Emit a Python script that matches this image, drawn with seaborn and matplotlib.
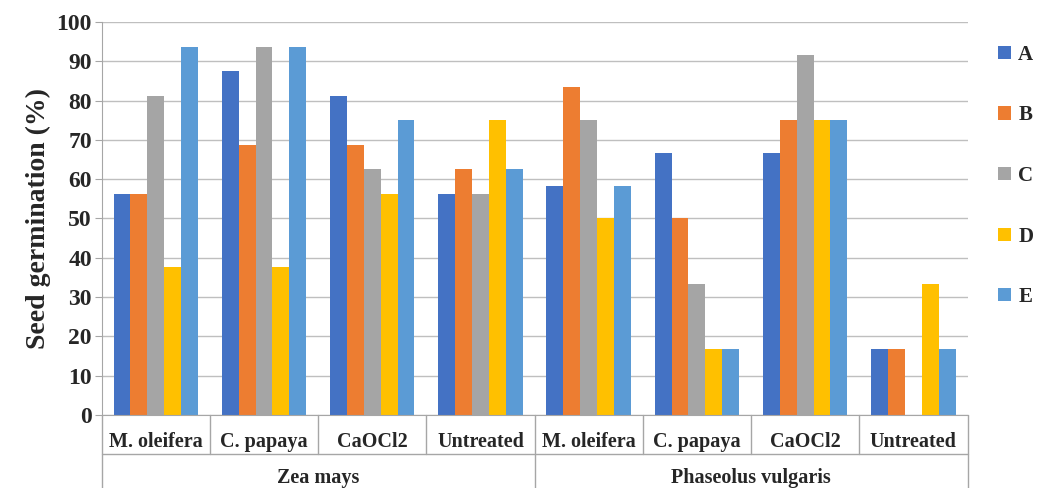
import pandas as pd
import numpy as np
import matplotlib.pyplot as plt
import seaborn as sns

# Data
species = ["Zea mays", "Phaseolus vulgaris"]
treatments = ["M. oleifera", "C. papaya", "CaOCl2", "Untreated"]
series = ["A", "B", "C", "D", "E"]
colors = ["#4472C4", "#ED7D31", "#A5A5A5", "#FFC000", "#5B9BD5"]

A = [56.25, 87.5, 81.25, 56.25, 58.33, 66.67, 66.67, 16.67]
B = [56.25, 68.75, 68.75, 62.5, 83.33, 50.0, 75.0, 16.67]
C = [81.25, 93.75, 62.5, 56.25, 75.0, 33.33, 91.67, 0.0]
D = [37.5, 37.5, 56.25, 75.0, 50.0, 16.67, 75.0, 33.33]
E = [93.75, 93.75, 75.0, 62.5, 58.33, 16.67, 75.0, 16.67]

groups = [s + " | " + t for s in species for t in treatments]
rows = []
for name, vals in zip(series, [A, B, C, D, E]):
    for g, v in zip(groups, vals):
        rows.append({"group": g, "series": name, "value": v})
df = pd.DataFrame(rows)

sns.set_style("white")
plt.rcParams["font.family"] = ["Liberation Serif", "DejaVu Serif"]
plt.rcParams["font.weight"] = "bold"

fig = plt.figure(figsize=(10.37, 4.88), dpi=100)
ax = fig.add_axes([0.098, 0.150, 0.835, 0.805])

sns.barplot(data=df, x="group", y="value", hue="series", order=groups,
            hue_order=series, palette=colors, width=0.78, saturation=1,
            edgecolor="none", ax=ax, legend=True)

ax.set_ylim(0, 100)
ax.set_xlim(-0.5, len(groups) - 0.5)
ax.set_yticks(range(0, 101, 10))
ax.yaxis.grid(True, color="#BFBFBF", linewidth=1)
ax.set_axisbelow(True)
ax.tick_params(axis="y", labelsize=17, length=5, pad=2, color="#A6A6A6", left=True)
for lab in ax.get_yticklabels():
    lab.set_fontweight("bold")
for side in ["top", "right"]:
    ax.spines[side].set_visible(False)
for side in ["left", "bottom"]:
    ax.spines[side].set_color("#A6A6A6")
ax.set_ylabel("Seed germination (%)", fontsize=20, fontweight="bold", labelpad=4)
ax.set_xlabel("")
ax.set_xticks([])

# Two-level category axis
trans = ax.get_xaxis_transform()
for i, g in enumerate(groups):
    ax.text(i, -0.068, g.split(" | ")[1], transform=trans, ha="center",
            va="center", fontsize=14.5, fontweight="bold")
for i in range(1, len(groups)):
    if i % 4 == 0:
        continue
    ax.plot([i - 0.5, i - 0.5], [0, -0.1], transform=trans, color="#A6A6A6",
            lw=1, clip_on=False)
for x in [-0.5, 3.5, 7.5]:
    ax.plot([x, x], [0, -0.2], transform=trans, color="#A6A6A6", lw=1,
            clip_on=False)
ax.plot([-0.5, 7.5], [-0.1, -0.1], transform=trans, color="#A6A6A6", lw=1,
        clip_on=False)
for k, s in enumerate(species):
    ax.text(1.5 + 4 * k, -0.16, s, transform=trans, ha="center", va="center",
            fontsize=14.5, fontweight="bold")

leg = ax.legend(loc="upper left", bbox_to_anchor=(1.014, 0.99), frameon=False,
                labelspacing=1.95, handlelength=0.6, handleheight=0.6,
                handletextpad=0.35, prop={"weight": "bold", "size": 15})

fig.savefig("out.png", dpi=100)
